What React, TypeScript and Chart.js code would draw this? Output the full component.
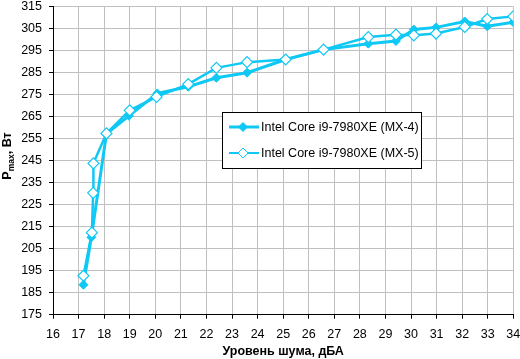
import React, { useEffect, useRef } from 'react';
import { Chart, registerables } from 'chart.js';

Chart.register(...registerables);

const LABEL_MX4 = 'Intel Core i9-7980XE (MX-4)';
const LABEL_MX5 = 'Intel Core i9-7980XE (MX-5)';

const xMX4 = [17.19, 17.5, 18.09, 18.97, 20.08, 21.29, 22.39, 23.59, 25.1, 26.58, 28.33, 29.41, 30.11, 30.98, 32.1, 32.98, 34.0];
const yMX4 = [188.6, 210.2, 257.2, 265.4, 275.6, 278.6, 282.7, 285.0, 291.0, 295.5, 298.2, 299.4, 304.6, 305.6, 308.3, 306.1, 307.9];

const xMX5 = [17.19, 17.52, 17.57, 17.58, 18.09, 19.0, 20.05, 21.29, 22.39, 23.59, 25.1, 26.58, 28.33, 29.41, 30.11, 30.98, 32.1, 32.98, 34.0];
const yMX5 = [192.7, 212.3, 230.4, 243.8, 257.4, 267.9, 274.0, 279.8, 287.2, 289.8, 291.0, 295.5, 301.2, 302.3, 302.0, 302.8, 305.8, 309.4, 310.6];

const X_MIN = 16, X_MAX = 34, X_STEP = 1;
const Y_MIN = 175, Y_MAX = 315, Y_STEP = 10;

const X_TITLE = 'Уровень шума, дБА';
const Y_TITLE_MAIN = 'P';
const Y_TITLE_SUB = 'max';
const Y_TITLE_REST = ', Вт';

const CYAN = '#10c8f4';
const FONT = "Arial, 'Liberation Sans', sans-serif";

const yTitlePlugin = {
  id: 'yTitle',
  afterDraw(chart: any) {
    const ctx = chart.ctx as CanvasRenderingContext2D;
    ctx.save();
    ctx.fillStyle = '#000';
    ctx.textBaseline = 'alphabetic';
    ctx.textAlign = 'left';
    const big = `bold 12.5px ${FONT}`;
    const small = `bold 8.5px ${FONT}`;
    ctx.font = big;
    const w1 = ctx.measureText(Y_TITLE_MAIN).width;
    const w3 = ctx.measureText(Y_TITLE_REST).width;
    ctx.font = small;
    const w2 = ctx.measureText(Y_TITLE_SUB).width;
    const total = w1 + w2 + w3;
    ctx.translate(11, 156);
    ctx.rotate(-Math.PI / 2);
    let sx = -total / 2;
    ctx.font = big;
    ctx.fillText(Y_TITLE_MAIN, sx, 0);
    sx += w1;
    ctx.font = small;
    ctx.fillText(Y_TITLE_SUB, sx, 3);
    sx += w2;
    ctx.font = big;
    ctx.fillText(Y_TITLE_REST, sx, 0);
    ctx.restore();
  },
};

const legendPlugin = {
  id: 'boxLegend',
  afterDraw(chart: any) {
    const ctx = chart.ctx as CanvasRenderingContext2D;
    const bx = 222.5, by = 112.5, bw = 199, bh = 56;
    ctx.save();
    ctx.fillStyle = '#fff';
    ctx.fillRect(bx, by, bw, bh);
    ctx.strokeStyle = '#000';
    ctx.lineWidth = 1;
    ctx.strokeRect(bx, by, bw, bh);
    const rows = [
      { y: 127, label: LABEL_MX4, lw: 3, filled: true, r: 4.5 },
      { y: 153, label: LABEL_MX5, lw: 2, filled: false, r: 5 },
    ];
    for (const row of rows) {
      ctx.strokeStyle = CYAN;
      ctx.lineWidth = row.lw;
      ctx.beginPath();
      ctx.moveTo(229, row.y);
      ctx.lineTo(259, row.y);
      ctx.stroke();
      const cx = 243, cy = row.y, r = row.r;
      ctx.beginPath();
      ctx.moveTo(cx - r, cy);
      ctx.lineTo(cx, cy - r);
      ctx.lineTo(cx + r, cy);
      ctx.lineTo(cx, cy + r);
      ctx.closePath();
      ctx.fillStyle = row.filled ? CYAN : '#fff';
      ctx.fill();
      ctx.lineWidth = 1;
      ctx.strokeStyle = CYAN;
      ctx.stroke();
      ctx.fillStyle = '#000';
      ctx.font = `12.5px ${FONT}`;
      ctx.textBaseline = 'middle';
      ctx.textAlign = 'left';
      ctx.fillText(row.label, 261, cy + 0.5);
    }
    ctx.restore();
  },
};

export default function App() {
  const ref = useRef<HTMLCanvasElement>(null);
  useEffect(() => {
    document.body.style.margin = '0';
    const canvas = ref.current!;
    const chart = new Chart(canvas, {
      type: 'scatter',
      data: {
        datasets: [
          {
            label: LABEL_MX4,
            data: xMX4.map((x, i) => ({ x, y: yMX4[i] })),
            showLine: true,
            borderColor: CYAN,
            backgroundColor: CYAN,
            borderWidth: 3,
            pointStyle: 'rectRot',
            pointRadius: 4.5,
            pointBackgroundColor: CYAN,
            pointBorderColor: CYAN,
            pointBorderWidth: 1,
            order: 1,
          },
          {
            label: LABEL_MX5,
            data: xMX5.map((x, i) => ({ x, y: yMX5[i] })),
            showLine: true,
            borderColor: CYAN,
            backgroundColor: '#fff',
            borderWidth: 2.5,
            pointStyle: 'rectRot',
            pointRadius: 5.5,
            pointBackgroundColor: '#fff',
            pointBorderColor: CYAN,
            pointBorderWidth: 1.2,
            order: 0,
          },
        ],
      },
      options: {
        animation: false,
        responsive: false,
        maintainAspectRatio: false,
        layout: { padding: { left: 0, right: 5.5, top: 5.3, bottom: 0 } },
        plugins: { legend: { display: false }, tooltip: { enabled: false } },
        scales: {
          x: {
            type: 'linear',
            min: X_MIN,
            max: X_MAX,
            ticks: {
              stepSize: X_STEP,
              color: '#000',
              font: { family: FONT, size: 12.5 },
              padding: 8,
              maxRotation: 0,
              autoSkip: false,
            },
            grid: { color: '#c0c0c0', tickColor: '#000', tickLength: 4, lineWidth: 1 },
            border: { color: '#000', width: 1 },
            title: {
              display: true,
              text: X_TITLE,
              color: '#000',
              font: { family: FONT, size: 12.5, weight: 'bold' },
              padding: { top: 0, bottom: 0 },
            },
            afterFit: (s: any) => {
              s.height = 44.3;
              s.paddingLeft = 0;
              s.paddingRight = 0;
            },
          },
          y: {
            type: 'linear',
            min: Y_MIN,
            max: Y_MAX,
            ticks: {
              stepSize: Y_STEP,
              color: '#000',
              font: { family: FONT, size: 12.5 },
              padding: 7,
            },
            grid: { color: '#c0c0c0', tickColor: '#000', tickLength: 4, lineWidth: 1 },
            border: { color: '#000', width: 1 },
            afterFit: (s: any) => {
              s.width = 53;
              s.paddingTop = 0;
              s.paddingBottom = 0;
            },
          },
        },
      },
      plugins: [legendPlugin, yTitlePlugin],
    } as any);
    return () => chart.destroy();
  }, []);
  return <canvas ref={ref} width={520} height={359} style={{ display: 'block' }} />;
}
